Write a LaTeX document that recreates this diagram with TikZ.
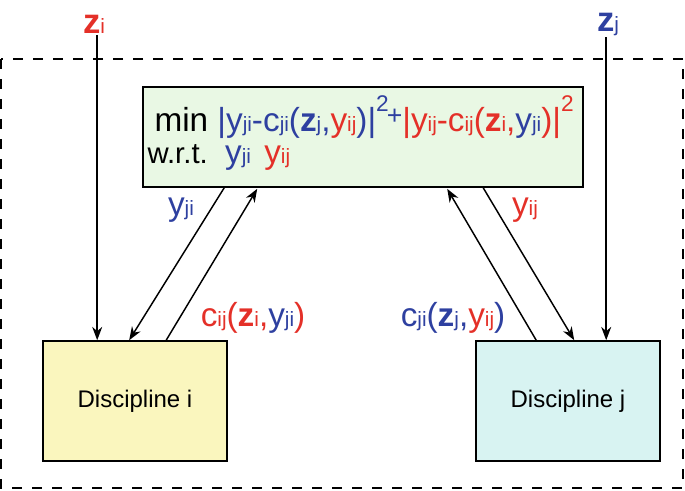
\documentclass[tikz,border=0pt]{standalone}
\usepackage{fontspec}
\setmainfont{Liberation Sans}
\usetikzlibrary{arrows.meta,calc}

\definecolor{zblue}{RGB}{46,64,160}
\definecolor{zred}{RGB}{228,48,40}
\definecolor{optfill}{RGB}{233,248,228}
\definecolor{ifill}{RGB}{250,246,190}
\definecolor{jfill}{RGB}{216,243,242}

\newcommand{\subtxt}[1]{{\fontsize{15.5}{16}\selectfont #1}}
\newcommand{\suptwo}{\raisebox{15pt}{\fontsize{17}{17}\selectfont 2}}

\tikzset{every picture/.style={line width=0.75pt}}

\begin{document}
\begin{tikzpicture}[x=0.75pt,y=0.75pt,yscale=-1,xscale=1]
\tikzset{
  box/.style={draw, line width=1.2pt, inner sep=0pt},
  discbox/.style={box, minimum width=138pt, minimum height=90pt, font=\fontsize{18}{20}\selectfont},
  arr/.style={-{Stealth[length=10pt,width=7.5pt]}, line width=1.1pt},
  lbl/.style={inner sep=1pt, font=\fontsize{25}{27}\selectfont},
  frame/.style={line width=1.5pt, dash pattern=on 7.5pt off 7.5pt}
}
\useasboundingbox (0,0) rectangle (685,490);

%Dashed frame
\draw [frame] (1,59) rectangle (683,488);

%Optimiser box
\node [box, fill=optfill, minimum width=330pt, minimum height=75pt] (opt) at (363,137) {};
\node [anchor=base west, inner sep=0pt, font=\fontsize{25}{28}\selectfont] (objective) at (154,131)
  {min \textcolor{zblue}{|y\subtxt{ji}-c\subtxt{ji}(\textbf{z}\subtxt{j},\textcolor{zred}{y\subtxt{ij}})|\suptwo\kern-1.5pt\raisebox{5pt}{\fontsize{20}{20}\selectfont +}}\textcolor{zred}{|y\subtxt{ij}-c\subtxt{ij}(\textbf{z}\subtxt{i},\textcolor{zblue}{y\subtxt{ji}})|\suptwo}};
\node [anchor=base west, inner sep=0pt] (wrt) at (147,163)
  {\fontsize{22}{24}\selectfont w.r.t.\hspace{13pt}\fontsize{25}{28}\selectfont\textcolor{zblue}{y\subtxt{ji}}\hspace{10pt}\textcolor{zred}{y\subtxt{ij}}};

%Disciplines
\node [discbox, fill=ifill] (disi) at (135,401) {Discipline i};
\node [discbox, fill=jfill] (disj) at (568,401) {Discipline j};

%Shared inputs
\node [lbl, font=\fontsize{26}{28}\selectfont, text=zred] (zi) at (94,24) {\textbf{z}\subtxt{i}};
\node [lbl, font=\fontsize{26}{28}\selectfont, text=zblue] (zj) at (608,24) {\textbf{z}\subtxt{j}};
\coordinate (zitip) at ($(disi.north west)+(55,0)$);
\coordinate (zjtip) at ($(disj.north west)+(131,0)$);
\draw [arr] (zi.south -| zitip) -- (zitip);
\draw [arr] (zj.south -| zjtip) -- (zjtip);

%Couplings
\draw [arr] ($(opt.south west)+(82,0)$) -- ($(disi.north west)+(87,0)$);
\draw [arr] ($(disi.north west)+(124,0)$) -- ($(opt.south west)+(115,1)$);
\draw [arr] ($(disj.north west)+(61,0)$) -- ($(opt.south west)+(305,1)$);
\draw [arr] ($(opt.south west)+(341,0)$) -- ($(disj.north west)+(99,0)$);

% Text Node
\node [lbl, text=zblue] (yjilbl) at (181,210) {y\subtxt{ji}};
\node [lbl, text=zred] (yijlbl) at (525,210) {y\subtxt{ij}};
\node [lbl, text=zred] (cijlbl) at (253,318)
  {c\subtxt{ij}(\textbf{z}\subtxt{i},\textcolor{zblue}{y\subtxt{ji}})};
\node [lbl, text=zblue] (cjilbl) at (453,318)
  {c\subtxt{ji}(\textbf{z}\subtxt{j},\textcolor{zred}{y\subtxt{ij}})};
\end{tikzpicture}
\end{document}
